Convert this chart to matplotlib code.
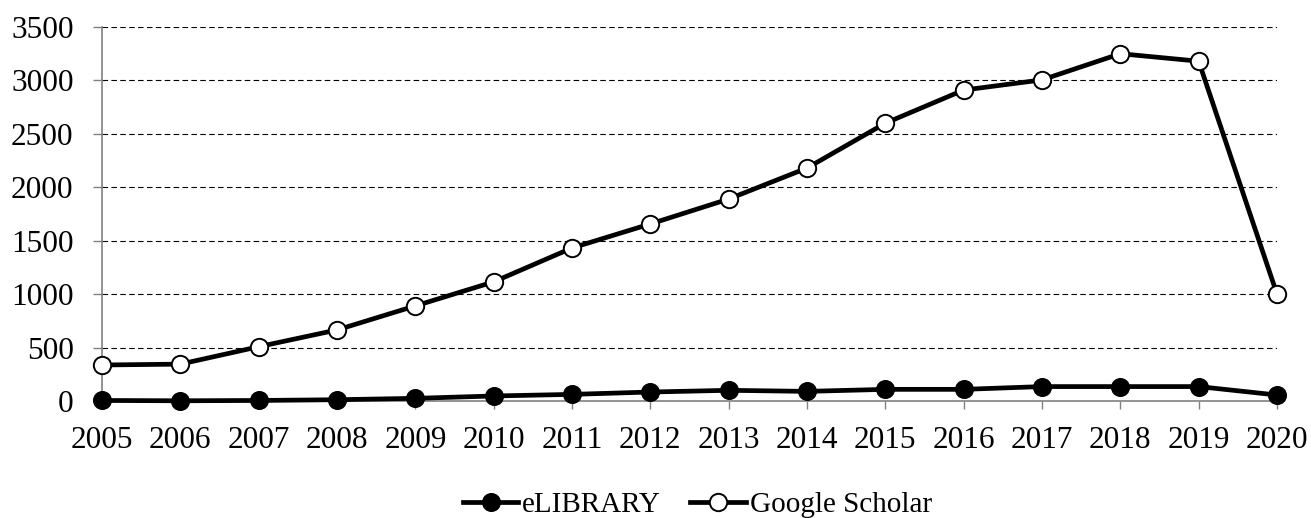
import matplotlib
matplotlib.use("Agg")
import matplotlib.pyplot as plt

years = [2005, 2006, 2007, 2008, 2009, 2010, 2011, 2012, 2013, 2014, 2015, 2016, 2017, 2018, 2019, 2020]
elibrary = [5, 2, 5, 12, 25, 47, 62, 84, 100, 90, 109, 109, 135, 135, 135, 56]
google_scholar = [337, 345, 508, 665, 890, 1115, 1432, 1657, 1890, 2180, 2600, 2910, 3005, 3250, 3180, 1000]
yticks = [0, 500, 1000, 1500, 2000, 2500, 3000, 3500]

plt.rcParams['font.family'] = ['Liberation Serif', 'DejaVu Serif']

fig = plt.figure(figsize=(13.11, 5.18), dpi=100)
ax = fig.add_axes([102/1311, 1 - 401/518, (1277-102)/1311, (401-27)/518])

ax.plot(years, elibrary, color='black', lw=3.4, marker='o', ms=12.5,
        mfc='black', mec='black', mew=1.2, label='eLIBRARY', zorder=3, clip_on=False)
ax.plot(years, google_scholar, color='black', lw=3.4, marker='o', ms=12.5,
        mfc='white', mec='black', mew=1.4, label='Google Scholar', zorder=4, clip_on=False)

ax.set_xlim(2005, 2020)
ax.set_ylim(0, 3500)
ax.set_xticks(years)
ax.set_xticklabels([str(y) for y in years])
ax.set_yticks(yticks)

for y in yticks[1:]:
    ax.axhline(y, color='black', lw=0.8, ls=(0, (5, 3)), zorder=1)

for s in ['top', 'right']:
    ax.spines[s].set_visible(False)
for s in ['left', 'bottom']:
    ax.spines[s].set_color('#808080')
    ax.spines[s].set_linewidth(1.2)

ax.tick_params(axis='x', length=6, width=1, color='#808080', labelsize=22.5, pad=12)
ax.tick_params(axis='y', length=6.5, width=1, color='#808080', labelsize=22.5, pad=14)

fig.legend(loc='center', bbox_to_anchor=(0.532, 0.025), ncol=2, frameon=False,
           fontsize=21, handlelength=1.9, handletextpad=0.14, columnspacing=1.0)

fig.savefig('out.png', dpi=100)
